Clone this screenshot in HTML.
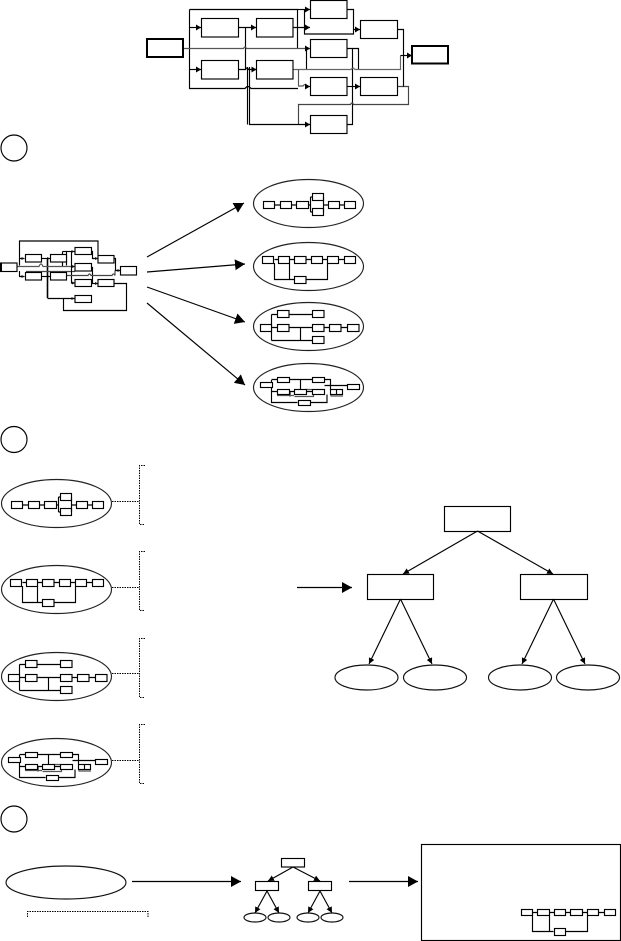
<!DOCTYPE html>
<html><head><meta charset="utf-8"><style>html,body{margin:0;padding:0;background:#fff}svg{display:block}</style></head>
<body>
<svg width="621" height="941" viewBox="0 0 621 941" xmlns="http://www.w3.org/2000/svg" fill="none" stroke="#000" stroke-width="1.15">
<defs>
<marker id="m" markerUnits="userSpaceOnUse" markerWidth="6" markerHeight="6" refX="5" refY="3" orient="auto"><path d="M0 0L5 3L0 6z" fill="#000" stroke="none"/></marker>
<marker id="s" markerUnits="userSpaceOnUse" markerWidth="4" markerHeight="4" refX="3" refY="2" orient="auto"><path d="M0 .5L3 2L0 3.5z" fill="#111" stroke="none"/></marker>
<marker id="b" markerUnits="userSpaceOnUse" markerWidth="10" markerHeight="11" refX="10" refY="5.5" orient="auto"><path d="M0 0L10 5.5L0 11z" fill="#000" stroke="none"/></marker>
<marker id="t" markerUnits="userSpaceOnUse" markerWidth="7" markerHeight="6" refX="6" refY="3" orient="auto"><path d="M0 0L6 3L0 6z" fill="#000" stroke="none"/></marker>

<g id="e1">
<ellipse cx="55.5" cy="24.5" rx="55" ry="24" stroke="#222"/>
<g fill="#fff">
<rect x="10.5" y="22.5" width="11" height="7"/><rect x="27.5" y="22.5" width="11" height="7"/><rect x="43.5" y="22.5" width="12" height="7"/>
<rect x="59.5" y="14.5" width="11" height="7"/><rect x="59.5" y="29.5" width="11" height="7"/><rect x="75.5" y="22.5" width="11" height="7"/><rect x="91.5" y="22.5" width="11" height="7"/>
</g>
<path d="M21.5 26h6M38.5 26h5M55.5 26h2M57.5 18v15M57.5 18h2M57.5 33h2M70.5 18v15M70.5 26h5M86.5 26h5"/>
</g>
<g id="e2">
<ellipse cx="55.5" cy="24.5" rx="55" ry="24" stroke="#222"/>
<path d="M21.5 17.500h5M36.500 17.500h5M53 17.500h5M69 17.500h5M86 17.500h5M21.500 21v16.500h20M36.500 21v16.500M53.500 37.500h21v-16"/>
<g fill="#fff">
<rect x="9.5" y="14.500" width="11" height="7"/><rect x="25.500" y="14.500" width="11" height="7"/><rect x="41.500" y="14.500" width="11.500" height="7"/><rect x="58.500" y="14.500" width="11" height="7"/><rect x="74.500" y="14.500" width="11" height="7"/><rect x="91.500" y="14.500" width="11" height="7"/>
<rect x="41.500" y="34.500" width="11.500" height="7"/>
</g>
</g>
<g id="e3">
<ellipse cx="55.5" cy="24.5" rx="55" ry="24" stroke="#222"/>
<path d="M18.500 12.500v26M18.500 12.500h6M18.500 25.500h6M18.500 38.500h41M36 12.500h24M36 25.500h24M47.500 25.500v13M71 25.500h5M88 25.500h6"/>
<g fill="#fff">
<rect x="7.500" y="22.500" width="11" height="7"/><rect x="24.500" y="8.500" width="11.500" height="7"/><rect x="24.500" y="22.500" width="11.500" height="7"/><rect x="59.500" y="8.500" width="11.500" height="7"/><rect x="59.500" y="22.500" width="11.500" height="7"/><rect x="59.500" y="34.500" width="11.500" height="7"/><rect x="76.500" y="22.500" width="11.500" height="7"/><rect x="94.500" y="22.500" width="11.500" height="7"/>
</g>
</g>
<g id="e4">
<ellipse cx="55.5" cy="24.500" rx="55" ry="24" stroke="#222"/>
<path d="M18.500 17v22.500h26M18.500 16.500h6M18.500 28.500h6M37 16.500h22M47.500 16.500v12M37 28.500h4M53 28.500h6M71 16.500h6.500v10M57 39.500h17v-8M37 28.500v5M71.500 22.500h23"/>
<path d="M24 32.500h17M41.500 33.500h19v-2M53 31.500v-5h6M78 31.500v1.500h12" stroke="#555"/>
<g fill="#fff">
<rect x="7.500" y="19.500" width="12" height="5"/><rect x="24.500" y="14.500" width="12" height="5"/><rect x="24.500" y="26.500" width="12" height="5"/><rect x="41.500" y="26.500" width="12" height="5"/><rect x="59.500" y="14.500" width="12" height="5"/><rect x="59.500" y="26.500" width="12" height="5"/><rect x="77.500" y="26.500" width="12" height="5"/><rect x="94.500" y="21.500" width="12" height="5"/><rect x="45.500" y="37.500" width="12" height="5"/>
</g>
<path d="M83.500 26.500v5"/>
</g>
</defs>

<!-- top diagram -->
<g>
<path d="M189.500 27.500h11.500" marker-end="url(#m)"/>
<path d="M189.500 69.500h11.500" marker-end="url(#m)"/>
<path d="M239 27.500h17" marker-end="url(#m)"/>
<path d="M239 69.500h6.500q1.500-3 3 0q1 0 2 0h6" marker-end="url(#m)"/>
<path d="M245.500 27.500v42"/>
<path d="M297.500 9.500h12.500" marker-end="url(#m)"/>
<path d="M293 27.500h17" marker-end="url(#m)"/>
<path d="M189.500 9.500h108v39M189.500 9.500v79h55.500q3-4 6 0h47"/>
<path d="M304.500 9.500v24.500h49v-24.500h-6"/>
<path d="M353.500 29.500h6.500" marker-end="url(#m)"/>
<path d="M183 48.500h60.500q1.500-3 3 0h63.500" stroke="#555" marker-end="url(#m)"/>
<path d="M306.500 48.500v21"/>
<path d="M347 48.500h11.500v21M352.500 48.500v76h-5"/>
<path d="M293 69.500h58q2-3 4 0h45.500v-14" stroke="#666"/>
<path d="M400.500 55.500h11.500" marker-end="url(#m)"/>
<path d="M298.500 69.500v16.500h4.500q2-3 4 0" stroke="#555"/>
<path d="M306 86.500h4" marker-end="url(#m)"/>
<path d="M347 86.500h13" marker-end="url(#m)"/>
<path d="M398 86.500h10.500v18h-55q-1.500-3-3 0h-52v20" stroke="#444"/>
<path d="M247.500 67v57.500"/>
<path d="M249.500 67v57.500h60.500" marker-end="url(#m)"/>
<path d="M398 29.500h5.500v57"/>
<g fill="#fff">
<rect x="201.500" y="18.500" width="37" height="18.500"/><rect x="256.500" y="18.500" width="36.500" height="18.500"/>
<rect x="201.500" y="60.500" width="37" height="18.500"/><rect x="256.500" y="60.500" width="36.500" height="18.500"/>
<rect x="310.500" y=".5" width="36.500" height="18"/><rect x="310.500" y="39.500" width="36.500" height="18"/><rect x="310.500" y="77.500" width="36.500" height="18"/><rect x="310.500" y="115.500" width="36.500" height="18"/>
<rect x="360.500" y="20.500" width="37" height="18"/><rect x="360.500" y="77.500" width="37" height="18"/>
<rect x="147" y="39" width="36" height="18" stroke-width="2"/>
<rect x="412" y="46" width="36" height="17.500" stroke-width="2"/>
</g>
</g>

<circle cx="14" cy="148" r="13"/>

<!-- small network -->
<g>
<path d="M19.500 265.500v-24.500h78.500v14"/>
<path d="M19.500 258.500h5" marker-end="url(#s)"/>
<path d="M19.500 271v5.500h5" marker-end="url(#s)"/>
<path d="M42 258.500h8" marker-end="url(#s)"/>
<path d="M42 276.500h8" marker-end="url(#s)"/>
<path d="M47.500 258v40" stroke-width="1.600"/>
<path d="M47.500 298.500h27" marker-end="url(#s)"/>
<path d="M62.500 251.500h12" marker-end="url(#s)"/>
<path d="M62.500 251.500v14.500M66.500 251.500v14"/>
<path d="M17 266.500h22q2-5 4 0h32" stroke="#555" marker-end="url(#s)"/>
<path d="M26 271.500h49" stroke="#444"/>
<path d="M71.500 251.500v31.500h3.500" marker-end="url(#s)"/>
<path d="M91 251.500h1.500v7h5.500" marker-end="url(#s)"/>
<path d="M91 267.500h1.500v15.500" />
<path d="M91 283.500h7" marker-end="url(#s)"/>
<path d="M66 275.500h22q1.500-3 3 0h21q1.500-3 3 0v-5" stroke="#444"/>
<path d="M114 258.500h1.500v12h5" marker-end="url(#s)"/>
<path d="M114 283.500h12.500v27h-63v-11.500"/>
<g fill="#fff">
<rect x="25.500" y="254.500" width="16" height="7.500"/><rect x="50.500" y="254.500" width="16" height="7.500"/><rect x="25.500" y="272.500" width="16" height="7.500"/><rect x="50.500" y="272.500" width="16" height="7.500"/>
<rect x="75" y="247.500" width="16.500" height="7"/><rect x="75" y="263.500" width="16.500" height="7.500"/><rect x="75" y="279.500" width="16.500" height="7"/><rect x="75" y="295.500" width="16.500" height="7"/>
<rect x="98" y="255.500" width="16" height="7.500"/><rect x="98" y="279.500" width="16" height="7"/><rect x="120.500" y="266.500" width="16" height="8.500"/>
</g>
<rect x=".5" y="263" width="16.500" height="8.500" fill="#fff"/>
<rect x="0" y="263" width="2" height="9" fill="#000" stroke="none"/>
</g>

<!-- big arrows -->
<path d="M147 257L244 203" marker-end="url(#b)"/>
<path d="M147 272L245 264" marker-end="url(#b)"/>
<path d="M147 287L245 322" marker-end="url(#b)"/>
<path d="M147 303L245 385" marker-end="url(#b)"/>

<use href="#e1" x="253" y="179"/>
<use href="#e2" x="253" y="242"/>
<use href="#e3" x="253" y="302"/>
<use href="#e4" x="253" y="363"/>

<circle cx="14" cy="439.500" r="13"/>

<use href="#e1" x="1" y="479"/>
<use href="#e2" x="1" y="565"/>
<use href="#e3" x="1" y="652"/>
<use href="#e4" x="1" y="738"/>

<g stroke-dasharray="1.500 1" stroke-width="1">
<path d="M112 501.500h27.500M145 465.500h-5.500v59h5.500"/>
<path d="M112 587.500h27.500M145 551.500h-5.500v59h5.500"/>
<path d="M112 673.500h27.500M145 638.500h-5.500v59h5.500"/>
<path d="M112 760.500h27.500M145 724.500h-5.500v59h5.500"/>
<path d="M27.500 917v-5.500h120.500v5.500"/>
</g>

<!-- tree -->
<path d="M297 587.500h55" marker-end="url(#b)"/>
<path d="M477.500 531L403 574" marker-end="url(#t)"/>
<path d="M477.500 531L553 574" marker-end="url(#t)"/>
<path d="M400.500 599L369 664" marker-end="url(#t)"/>
<path d="M400.500 599L432 664" marker-end="url(#t)"/>
<path d="M553.500 599L522 664" marker-end="url(#t)"/>
<path d="M553.500 599L585 664" marker-end="url(#t)"/>
<rect x="444.500" y="506.500" width="66" height="25"/>
<rect x="367.500" y="574.500" width="66" height="25"/>
<rect x="520.500" y="574.500" width="67" height="25"/>
<ellipse cx="366.500" cy="677.500" rx="31.500" ry="12.500" stroke="#111"/>
<ellipse cx="435" cy="677.500" rx="31.500" ry="12.500" stroke="#111"/>
<ellipse cx="520" cy="677.500" rx="31.500" ry="12.500" stroke="#111"/>
<ellipse cx="588" cy="677.500" rx="31.500" ry="12.500" stroke="#111"/>

<circle cx="14" cy="819" r="13"/>

<!-- bottom row -->
<ellipse cx="66" cy="882.500" rx="60" ry="16.500" stroke="#111"/>
<path d="M132 881.500h109" marker-end="url(#b)"/>
<path d="M293 867L268 881" marker-end="url(#t)"/>
<path d="M293 867L320 881" marker-end="url(#t)"/>
<path d="M267 891L255 913" marker-end="url(#t)"/>
<path d="M267 891L279 913" marker-end="url(#t)"/>
<path d="M320 891L308 913" marker-end="url(#t)"/>
<path d="M320 891L332 913" marker-end="url(#t)"/>
<rect x="281.500" y="858.500" width="23" height="8.500" fill="#fff"/>
<rect x="255.500" y="881.500" width="23" height="9" fill="#fff"/>
<rect x="308.500" y="881.500" width="23" height="9" fill="#fff"/>
<ellipse cx="255" cy="917.500" rx="11" ry="4.500" stroke="#111"/>
<ellipse cx="279" cy="917.500" rx="11" ry="4.500" stroke="#111"/>
<ellipse cx="308" cy="917.500" rx="11" ry="4.500" stroke="#111"/>
<ellipse cx="332" cy="917.500" rx="11" ry="4.500" stroke="#111"/>
<path d="M349 881.500h69" marker-end="url(#b)"/>

<rect x="421.500" y="844.500" width="199" height="96"/>
<path d="M532 912.500h5M549 912.500h5M565 912.500h5M582 912.500h5M599 912.500h5M532.500 915v16.500h21M549.500 915v16.500M565 931.500h22.500v-16"/>
<g fill="#fff">
<rect x="521.500" y="909.500" width="11" height="6"/><rect x="537.500" y="909.500" width="12" height="6"/><rect x="554.500" y="909.500" width="11" height="6"/><rect x="570.500" y="909.500" width="12" height="6"/><rect x="587.500" y="909.500" width="11" height="6"/><rect x="604.500" y="909.500" width="11" height="6"/>
<rect x="554.500" y="928.500" width="11" height="7"/>
</g>
</svg>
</body></html>
